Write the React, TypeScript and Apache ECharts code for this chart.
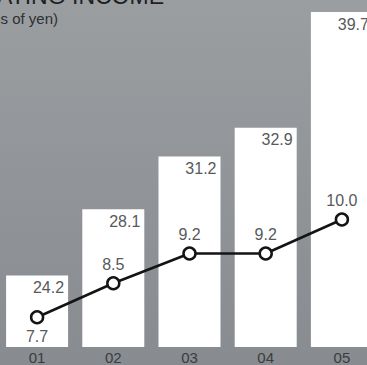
import React, { useEffect, useRef } from "react";
import * as echarts from "echarts";

const categories = ["01", "02", "03", "04", "05"];
const barValues = [24.2, 28.1, 31.2, 32.9, 39.7];
const lineValues = [7.7, 8.5, 9.2, 9.2, 10.0];
const titleText = "OPERATING INCOME";
const subtitleText = "(Billions of yen)";

const FONT = "'Liberation Sans', Arial, Helvetica, sans-serif";

export default function App() {
  const ref = useRef<HTMLDivElement>(null);
  useEffect(() => {
    if (!ref.current) return;
    const chart = echarts.init(ref.current, undefined, { renderer: "svg" });
    chart.setOption({
      animation: false,
      backgroundColor: new echarts.graphic.LinearGradient(0, 0, 0, 1, [
        { offset: 0, color: "#9b9ea1" },
        { offset: 1, color: "#888b8f" },
      ]),
      textStyle: { fontFamily: FONT },
      grid: {
        left: -1,
        top: 7,
        right: -13,
        bottom: 18,
        containLabel: false,
        outerBoundsMode: "none",
      },
      xAxis: {
        type: "category",
        data: categories,
        axisLine: { show: false },
        axisTick: { show: false },
        axisLabel: {
          color: "#3a3c3e",
          fontSize: 15,
          lineHeight: 15,
          margin: 3,
          fontFamily: FONT,
        },
      },
      yAxis: [
        { type: "value", min: 20, max: 40, show: false, splitLine: { show: false } },
        { type: "value", min: 7, max: 15, show: false, splitLine: { show: false } },
      ],
      graphic: [
        {
          type: "text",
          x: 164,
          y: 7,
          style: {
            text: titleText,
            fill: "#1e1f20",
            font: `23px ${FONT}`,
            align: "right",
            verticalAlign: "bottom",
          },
        },
        {
          type: "text",
          x: 58,
          y: 18,
          style: {
            text: subtitleText,
            fill: "#2e3032",
            font: `15px ${FONT}`,
            align: "right",
            verticalAlign: "middle",
          },
        },
      ],
      series: [
        {
          type: "bar",
          yAxisIndex: 0,
          data: barValues,
          barWidth: 62,
          itemStyle: { color: "#ffffff" },
          label: {
            show: true,
            position: "insideTopRight",
            distance: 4,
            color: "#57595b",
            fontSize: 16,
            fontFamily: FONT,
            formatter: (p: any) => Number(p.value).toFixed(1),
          },
        },
        {
          type: "line",
          yAxisIndex: 1,
          data: lineValues.map((v, i) => ({
            value: v,
            label: { position: i === 0 ? "bottom" : "top" },
          })),
          symbol: "circle",
          symbolSize: 12,
          lineStyle: { color: "#141414", width: 2.5 },
          itemStyle: { color: "#ffffff", borderColor: "#141414", borderWidth: 2.5 },
          label: {
            show: true,
            distance: 4,
            color: "#57595b",
            fontSize: 16,
            fontFamily: FONT,
            formatter: (p: any) => Number(p.value).toFixed(1),
          },
          z: 5,
        },
      ],
    });
    return () => chart.dispose();
  }, []);
  return (
    <div
      ref={ref}
      style={{ position: "fixed", left: 0, top: 0, width: 367, height: 365 }}
    />
  );
}
